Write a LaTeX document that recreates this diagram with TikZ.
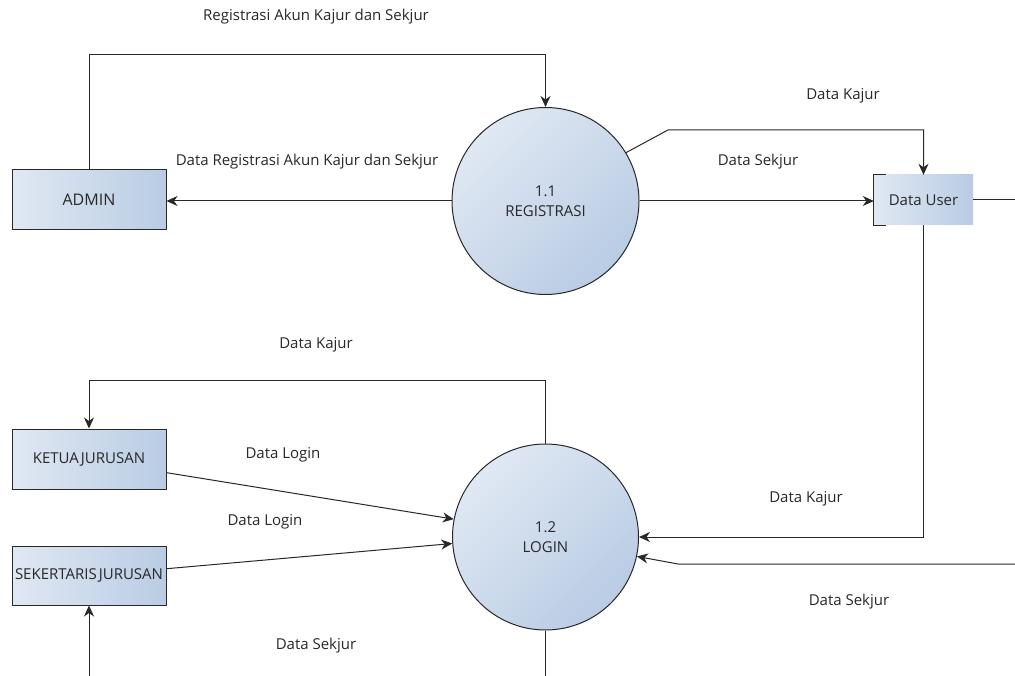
\documentclass[tikz,border=0pt]{standalone}
\usepackage{fontspec}
\setmainfont{Open Sans}
\usetikzlibrary{arrows.meta,calc}
\definecolor{fillA}{RGB}{224,232,243}
\definecolor{fillB}{RGB}{185,204,228}
\definecolor{edge}{RGB}{40,40,40}
\definecolor{txt}{RGB}{40,40,40}
\begin{document}
\begin{tikzpicture}[x=1pt,y=-1pt,
  font=\fontsize{15}{20}\selectfont, text=txt,
  ent/.style={draw=edge, line width=1pt, left color=fillA, right color=fillB,
    minimum width=154pt, minimum height=60pt, inner sep=0pt, align=center},
  proc/.style={circle, draw=edge, line width=1pt, left color=fillA, right color=fillB,
    shading angle=45, minimum size=187pt, inner sep=0pt, align=center},
  storefill/.style={left color=fillA, right color=fillB, minimum width=99pt,
    minimum height=50pt, inner sep=0pt},
  flow/.style={draw=edge, line width=1pt},
  arr/.style={flow, -{Stealth[length=11pt,width=10pt,inset=3.5pt]}},
  lbl/.style={inner sep=0pt}
]
\useasboundingbox[fill=white] (0,0) rectangle (1015,676);

% nodes
\node[ent] (admin) at (89,200) {\fontsize{16}{20}\selectfont ADMIN};
\node[ent] (ketua) at (89,459) {KETUA\hspace{2pt}JURUSAN};
\node[ent, minimum height=59pt] (sek) at (89,575.5) {SEKERTARIS\hspace{2pt}JURUSAN};
\node[proc] (reg) at (545.5,201) {1.1\\REGISTRASI};
\node[proc, minimum size=186pt] (login) at (545.5,537) {1.2\\LOGIN};
\node[storefill] (du) at (923.5,200) {Data User};
\draw[flow] ($(du.north west)+(12,0)$) -- (du.north west) -- (du.south west) -- ++(12,0);

% border coordinates
\coordinate (rEdgeA) at (1015,200);
\coordinate (rEdgeB) at (1015,564);
\coordinate (bEdgeA) at (545.5,676);
\coordinate (bEdgeB) at (89,676);
\coordinate (bendS) at (678,564);
\coordinate (bendK) at (668,130);

% connectors
\draw[arr] (admin.north) -- ++(0,-115) -| (reg.north);
\draw[arr] (reg.west) -- (reg.west -| admin.east);
\draw[arr] (reg.31) -- (bendK) -| (du.north);
\draw[arr] (reg.east) -- (reg.east -| du.west);
\draw[flow] (du.east) -- (rEdgeA);
\draw[arr] (rEdgeB) -- (bendS) -- (login.-12);
\draw[arr] (du.south) |- (login.east);
\draw[arr] (login.north) -- ++(0,-63) -| (ketua.north);
\draw[arr] (ketua.-10) -- (login.169);
\draw[arr] (sek.5.6) -- (login.184);
\draw[flow] (login.south) -- (bEdgeA);
\draw[arr] (bEdgeB) -- (sek.south);

% labels
\node[lbl] (l1) at (316,17) {Registrasi Akun Kajur dan Sekjur};
\node[lbl] (l2) at (307,162) {Data Registrasi Akun Kajur dan Sekjur};
\node[lbl] (l3) at (843,96) {Data Kajur};
\node[lbl] (l4) at (758,162) {Data Sekjur};
\node[lbl] (l5) at (316,345) {Data Kajur};
\node[lbl] (l6) at (283,455) {Data Login};
\node[lbl] (l7) at (265,522) {Data Login};
\node[lbl] (l8) at (806,499) {Data Kajur};
\node[lbl] (l9) at (849,602) {Data Sekjur};
\node[lbl] (l10) at (316,646) {Data Sekjur};
\end{tikzpicture}
\end{document}
